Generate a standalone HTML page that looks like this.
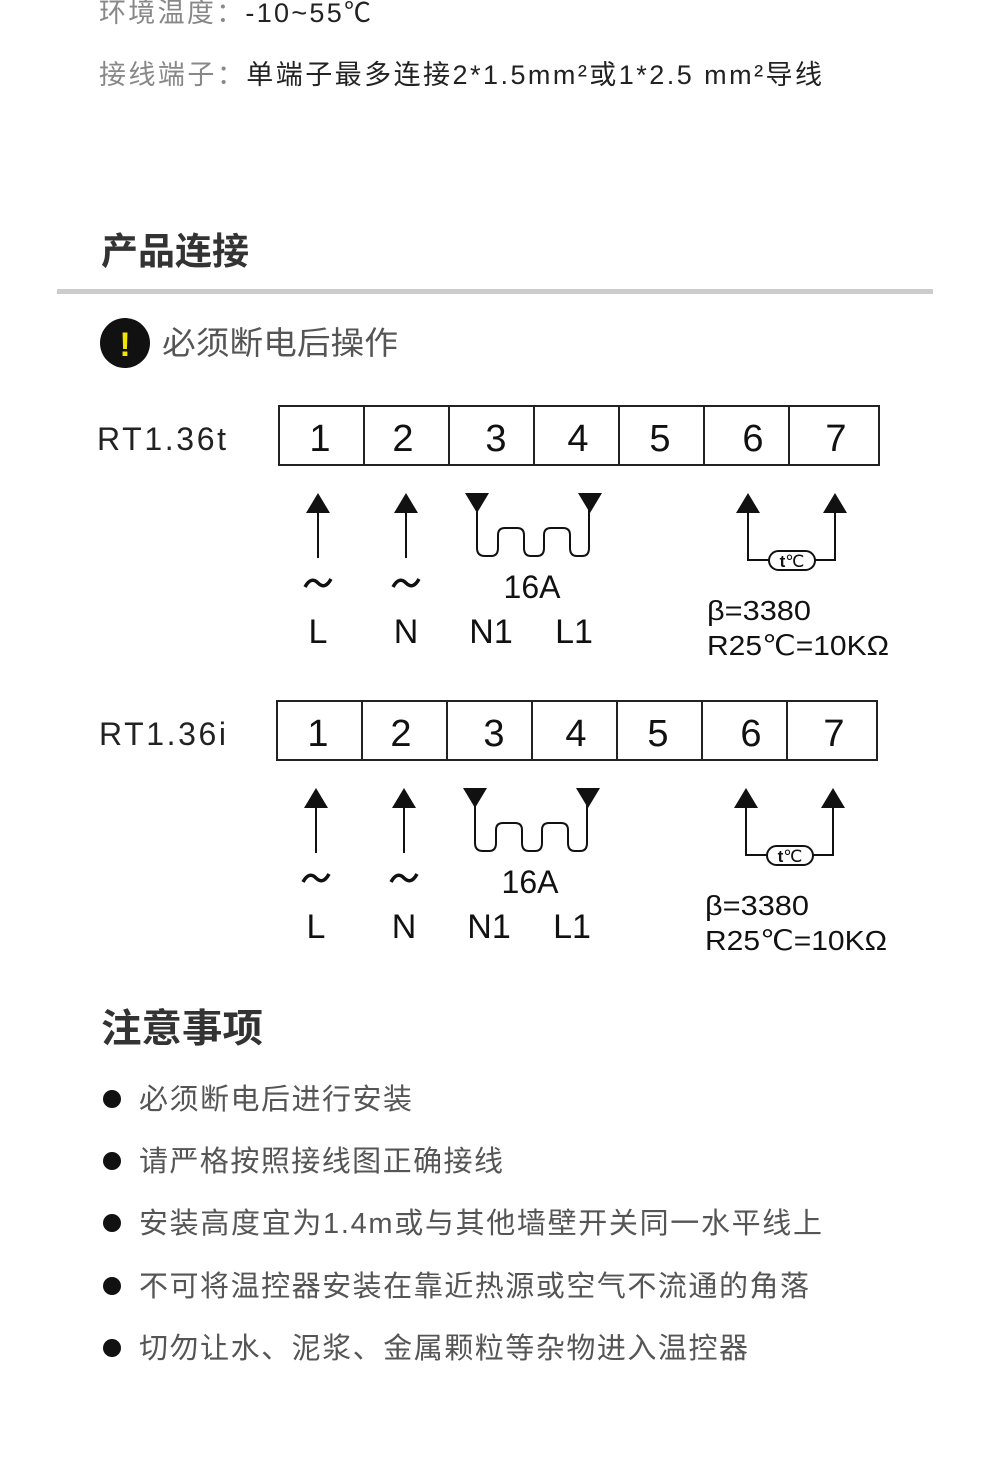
<!DOCTYPE html>
<html><head><meta charset="utf-8"><style>
html,body{margin:0;padding:0;background:#fff;width:990px;height:1457px;overflow:hidden}
svg{display:block}
.cn{font-family:"Liberation Sans","Noto Sans CJK SC",sans-serif}
</style></head><body>
<svg width="990" height="1457" viewBox="0 0 990 1457" xmlns="http://www.w3.org/2000/svg" class="cn">
<g font-size="27">
<text x="99" y="22" fill="#888" textLength="272" lengthAdjust="spacing">环境温度：<tspan fill="#222">-10~55℃</tspan></text>
<text x="99" y="84" fill="#888" textLength="723" lengthAdjust="spacing">接线端子：<tspan fill="#222">单端子最多连接2*1.5mm²或1*2.5 mm²导线</tspan></text>
</g>
<text x="101" y="264" font-size="37" font-weight="bold" fill="#333" textLength="148" lengthAdjust="spacingAndGlyphs">产品连接</text>
<rect x="57" y="289" width="876" height="5" fill="#ccc"/>
<circle cx="125" cy="343" r="25" fill="#111"/>
<text x="125" y="356" font-size="34" font-weight="bold" fill="#f2e600" text-anchor="middle">!</text>
<text x="162" y="354" font-size="32" fill="#555" textLength="236" lengthAdjust="spacingAndGlyphs">必须断电后操作</text>

<defs>
<g id="dia" font-family="Liberation Sans,sans-serif" fill="#111">
<rect x="279" y="406" width="600" height="59" fill="none" stroke="#222" stroke-width="2"/>
<g stroke="#222" stroke-width="2">
<line x1="364" y1="406" x2="364" y2="465"/><line x1="449" y1="406" x2="449" y2="465"/>
<line x1="534" y1="406" x2="534" y2="465"/><line x1="619" y1="406" x2="619" y2="465"/>
<line x1="704" y1="406" x2="704" y2="465"/><line x1="789" y1="406" x2="789" y2="465"/>
</g>
<g font-size="38" text-anchor="middle">
<text x="320" y="451">1</text><text x="403" y="451">2</text><text x="496" y="451">3</text>
<text x="578" y="451">4</text><text x="660" y="451">5</text><text x="753" y="451">6</text><text x="836" y="451">7</text>
</g>
<g stroke="#111" stroke-width="2" fill="none">
<line x1="318" y1="510" x2="318" y2="558"/><line x1="406" y1="510" x2="406" y2="558"/>
<path d="M477 510 V548 Q477 556 485 556 H491 Q498 556 498 548 V535 Q498 528 505 528 H517 Q524 528 524 535 V548 Q524 556 531 556 H537 Q544 556 544 548 V535 Q544 528 551 528 H563 Q570 528 570 535 V548 Q570 556 577 556 H582 Q589 556 589 548 V510"/>
<path d="M748 510 V560 H770 M814 560 H835 V510"/>
<rect x="769" y="551" width="46" height="19" rx="9.5"/>
<path d="M305 587 Q311 576 318 583 Q325 590 331 579" stroke-width="3.5"/>
<path d="M393 587 Q399 576 406 583 Q413 590 419 579" stroke-width="3.5"/>
</g>
<polygon points="306,513 330,513 318,493"/><polygon points="394,513 418,513 406,493"/>
<polygon points="465,493 489,493 477,513"/><polygon points="578,493 602,493 590,513"/>
<polygon points="736,513 760,513 748,493"/><polygon points="823,513 847,513 835,493"/>
<text x="792" y="567" font-size="17" text-anchor="middle"><tspan font-weight="bold">t</tspan>℃</text>
<g font-size="34" text-anchor="middle">
<text x="318" y="643">L</text><text x="406" y="643">N</text>
<text x="491" y="643">N1</text><text x="574" y="643">L1</text>
<text x="532" y="598" font-size="32">16A</text>
</g>
<text x="707" y="620" font-size="28" textLength="104" lengthAdjust="spacingAndGlyphs">β=3380</text>
<text x="707" y="655" font-size="28" textLength="182" lengthAdjust="spacingAndGlyphs">R25℃=10KΩ</text>
</g>
</defs>
<text x="97" y="450" font-size="32" font-family="Liberation Sans,sans-serif" fill="#222" textLength="129" lengthAdjust="spacing">RT1.36t</text>
<use href="#dia"/>
<text x="99" y="745" font-size="32" font-family="Liberation Sans,sans-serif" fill="#222" textLength="127" lengthAdjust="spacing">RT1.36i</text>
<use href="#dia" transform="translate(-2,295)"/>

<text x="101" y="1042" font-size="39" font-weight="bold" fill="#333" textLength="162" lengthAdjust="spacingAndGlyphs">注意事项</text>
<g fill="#111">
<circle cx="112" cy="1099" r="9"/><circle cx="112" cy="1161" r="9"/><circle cx="112" cy="1223" r="9"/>
<circle cx="112" cy="1286" r="9"/><circle cx="112" cy="1348" r="9"/>
</g>
<g font-size="29" fill="#555">
<text x="139" y="1109" textLength="273" lengthAdjust="spacing">必须断电后进行安装</text>
<text x="139" y="1171" textLength="364" lengthAdjust="spacing">请严格按照接线图正确接线</text>
<text x="139" y="1233" textLength="683" lengthAdjust="spacing">安装高度宜为1.4m或与其他墙壁开关同一水平线上</text>
<text x="139" y="1296" textLength="670" lengthAdjust="spacing">不可将温控器安装在靠近热源或空气不流通的角落</text>
<text x="139" y="1358" textLength="609" lengthAdjust="spacing">切勿让水、泥浆、金属颗粒等杂物进入温控器</text>
</g>
</svg>
</body></html>
